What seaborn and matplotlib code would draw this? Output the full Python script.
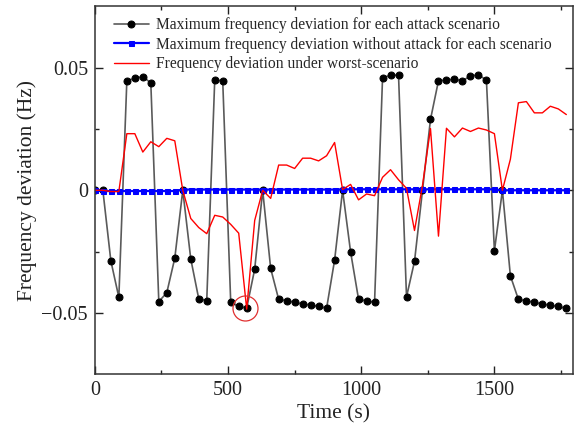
import numpy as np
import pandas as pd
import matplotlib
matplotlib.use("Agg")
import matplotlib.pyplot as plt
import seaborn as sns

# time axis, one scenario every 30 s
time_s = list(range(0, 1800, 30))

attack_max = [0, 0, -0.0288, -0.0437, 0.0447, 0.0457, 0.0464, 0.0438,
              -0.0454, -0.0418, -0.0277, 0, -0.028, -0.0443, -0.045,
              0.0451, 0.0446, -0.0457, -0.0474, -0.048, -0.0322, 0,
              -0.0319, -0.0445, -0.045, -0.0457, -0.0464, -0.0468, -0.0474,
              -0.0481, -0.0285, 0, -0.0251, -0.0445, -0.0451, -0.0457,
              0.0458, 0.047, 0.047, -0.0435, -0.029, 0, 0.0289, 0.0447,
              0.045, 0.0453, 0.0447, 0.0466, 0.0472, 0.0449, -0.0247, 0,
              -0.0349, -0.0445, -0.0451, -0.0457, -0.0464, -0.0469, -0.0474,
              -0.0482]

no_attack_max = [0] + [-0.0003] * 10 + [0.0003] * 20 + [0.0004] * 20 + [0.0] * 9

worst_case = [0, 0, -0.0005, -0.0005, 0.0231, 0.0231, 0.0156, 0.0198,
              0.0178, 0.0212, 0.0202, 0, -0.0115, -0.0152, -0.0177,
              -0.0102, -0.0109, -0.0139, -0.0175, -0.0485, -0.0123, 0,
              -0.0033, 0.0103, 0.0103, 0.0089, 0.0131, 0.0131, 0.012,
              0.0141, 0.0195, 0.0003, 0.0024, -0.0039, -0.0015, -0.0022,
              0.0053, 0.0084, 0.0043, 0.0008, -0.0164, 0.002, 0.0252,
              -0.0187, 0.0253, 0.0218, 0.0254, 0.024, 0.0254, 0.0246,
              0.0231, 0, 0.0127, 0.0357, 0.0362, 0.0316, 0.0316, 0.0343,
              0.0332, 0.0309]

labels = ["Maximum frequency deviation for each attack scenario",
          "Maximum frequency deviation without attack for each scenario",
          "Frequency deviation under worst-scenario"]
ytick_vals = [-0.05, 0, 0.05]
ytick_labels = ["\u22120.05", "0", "0.05"]
xtick_vals = [0, 500, 1000, 1500]

df = pd.DataFrame({"t": time_s, "attack": attack_max,
                   "no_attack": no_attack_max, "worst": worst_case})

sns.set_style("ticks")
plt.rcParams["font.family"] = ["Liberation Serif", "DejaVu Serif"]

fig = plt.figure(figsize=(5.75, 4.32), dpi=100)
ax = fig.add_axes([0.165, 0.134, 0.8315, 0.851])

sns.lineplot(data=df, x="t", y="attack", ax=ax, color="#5a5a5a", lw=1.2,
             marker="o", markersize=5, markerfacecolor="black",
             markeredgecolor="black", label=labels[0])
sns.lineplot(data=df, x="t", y="no_attack", ax=ax, color="#0000ff", lw=1.6,
             marker="s", markersize=3.6, markerfacecolor="#0000ff",
             markeredgecolor="#0000ff", label=labels[1])
sns.lineplot(data=df, x="t", y="worst", ax=ax, color="#ff0000", lw=1,
             label=labels[2])

# circle the worst point
i_min = int(np.argmin(worst_case))
ax.plot(time_s[i_min] - 5, worst_case[i_min] + 0.0005, marker="o",
        markersize=18, markerfacecolor="none", markeredgecolor="#e03030",
        markeredgewidth=0.9)

ax.set_xlim(0, 1795)
ax.set_ylim(-0.075, 0.075)
ax.set_xticks(xtick_vals)
ax.set_xticks([250, 750, 1250, 1750], minor=True)
ax.set_yticks(ytick_vals)
ax.set_yticklabels(ytick_labels)
ax.set_yticks([-0.025, 0.025], minor=True)
ax.tick_params(which="both", direction="in", top=True, right=True,
               labelsize=14.5, colors="#222222", width=1, pad=5)
ax.tick_params(which="major", length=6)
ax.tick_params(which="minor", length=3)
for s in ax.spines.values():
    s.set_linewidth(1.1)
    s.set_color("#333333")

ax.set_xlabel("Time (s)", fontsize=15.5, color="#222222", labelpad=3)
ax.set_ylabel("Frequency deviation (Hz)", fontsize=15.5, color="#222222",
              labelpad=3)

ax.legend(loc="upper left", bbox_to_anchor=(0.026, 0.987), frameon=False,
          fontsize=11.2, handlelength=2.25, handletextpad=0.45,
          labelspacing=0.22, borderaxespad=0)

fig.savefig("out.png", dpi=100)
